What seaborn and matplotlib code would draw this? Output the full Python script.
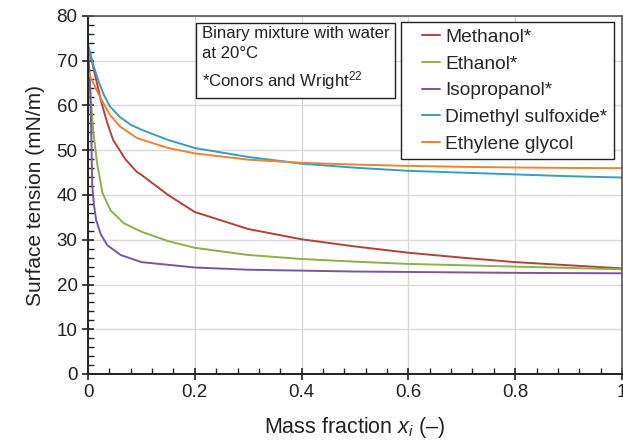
import numpy as np
import pandas as pd
import matplotlib
matplotlib.use("Agg")
import matplotlib.pyplot as plt
import seaborn as sns
from matplotlib.ticker import MultipleLocator
from matplotlib.legend_handler import HandlerLine2D
from matplotlib.lines import Line2D

# ---- data ----
methanol_x = [0, 0.005, 0.01, 0.024, 0.035, 0.047, 0.07, 0.091, 0.1, 0.15, 0.2, 0.3, 0.4, 0.5, 0.6, 0.7, 0.8, 0.9, 1.0]
methanol_y = [72.8, 71.0, 68.5, 61.2, 56.5, 52.3, 48.0, 45.2, 44.5, 40.0, 36.2, 32.4, 30.1, 28.5, 27.1, 26.0, 25.0, 24.3, 23.6]

ethanol_x = [0, 0.005, 0.01, 0.017, 0.027, 0.042, 0.067, 0.1, 0.15, 0.2, 0.3, 0.4, 0.5, 0.6, 0.7, 0.8, 0.9, 1.0]
ethanol_y = [72.8, 62.0, 54.0, 47.1, 40.5, 36.6, 33.7, 31.8, 29.7, 28.2, 26.6, 25.7, 25.1, 24.6, 24.3, 24.0, 23.7, 23.4]

isopropanol_x = [0, 0.004, 0.006, 0.008, 0.011, 0.015, 0.024, 0.036, 0.061, 0.1, 0.2, 0.3, 0.4, 0.5, 0.6, 0.8, 1.0]
isopropanol_y = [72.8, 64.0, 54.5, 42.0, 38.0, 34.5, 31.2, 28.8, 26.6, 25.0, 23.8, 23.3, 23.1, 22.9, 22.8, 22.6, 22.5]

dmso_x = [0, 0.01, 0.02, 0.03, 0.041, 0.06, 0.08, 0.1, 0.15, 0.2, 0.3, 0.4, 0.5, 0.6, 0.7, 0.8, 0.9, 1.0]
dmso_y = [73.7, 69.0, 65.3, 62.3, 59.8, 57.4, 55.7, 54.6, 52.3, 50.5, 48.5, 47.0, 46.1, 45.4, 45.0, 44.6, 44.2, 43.9]

eg_x = [0, 0.01, 0.022, 0.041, 0.06, 0.091, 0.1, 0.15, 0.2, 0.3, 0.4, 0.5, 0.6, 0.7, 0.8, 0.9, 1.0]
eg_y = [67.5, 65.0, 62.0, 57.9, 55.3, 52.8, 52.4, 50.5, 49.3, 47.9, 47.2, 46.8, 46.5, 46.3, 46.15, 46.05, 46.0]

series_names = ["Methanol*", "Ethanol*", "Isopropanol*", "Dimethyl sulfoxide*", "Ethylene glycol"]
series_x = [methanol_x, ethanol_x, isopropanol_x, dmso_x, eg_x]
series_y = [methanol_y, ethanol_y, isopropanol_y, dmso_y, eg_y]
colors = ["#B3423D", "#8DB04B", "#76589F", "#3A9DBD", "#EB8435"]

x_ticks = [0, 0.2, 0.4, 0.6, 0.8, 1.0]
x_ticklabels = ["0", "0.2", "0.4", "0.6", "0.8", "1"]
y_ticks = [0, 10, 20, 30, 40, 50, 60, 70, 80]

rows = []
for name, xs, ys in zip(series_names, series_x, series_y):
    for xv, yv in zip(xs, ys):
        rows.append({"x": xv, "y": yv, "series": name})
df = pd.DataFrame(rows)

# ---- style ----
sns.set_style("white")
plt.rcParams["font.family"] = ["Liberation Sans", "DejaVu Sans"]
plt.rcParams["mathtext.fontset"] = "custom"
plt.rcParams["mathtext.rm"] = "Liberation Sans"
plt.rcParams["mathtext.it"] = "Liberation Sans:italic"

fig = plt.figure(figsize=(6.23, 4.46), dpi=100)
ax = fig.add_axes([88 / 623, 72 / 446, 534 / 623, 358 / 446])

sns.lineplot(data=df, x="x", y="y", hue="series", hue_order=series_names,
             palette=colors, estimator=None, sort=False, linewidth=1.4, ax=ax)

ax.set_xlim(0, 1)
ax.set_ylim(0, 80)
ax.set_xticks(x_ticks)
ax.set_xticklabels(x_ticklabels)
ax.set_yticks(y_ticks)
ax.xaxis.set_minor_locator(MultipleLocator(0.04))
ax.yaxis.set_minor_locator(MultipleLocator(2))
ax.tick_params(axis="both", which="both", bottom=True, left=True, top=False, right=False)
ax.tick_params(axis="both", which="major", direction="inout", length=9, width=1.2,
               labelsize=13.5, color="#222222", labelcolor="#222222", pad=3)
ax.tick_params(axis="both", which="minor", direction="in", length=4, width=1.0, color="#222222")
ax.grid(True, which="major", color="#d9d9d9", linewidth=1.0)
ax.set_axisbelow(True)

for side in ["left", "bottom"]:
    ax.spines[side].set_color("#222222")
    ax.spines[side].set_linewidth(1.4)
for side in ["top", "right"]:
    ax.spines[side].set_color("#555555")
    ax.spines[side].set_linewidth(1.2)

ax.set_xlabel("Mass fraction $x_i$ (–)", fontsize=15.5, color="#222222", labelpad=10)
ax.set_ylabel("Surface tension (mN/m)", fontsize=15, color="#222222", labelpad=8)


class ShortLineHandler(HandlerLine2D):
    def create_artists(self, legend, orig_handle, xdescent, ydescent, width, height,
                       fontsize, trans):
        artists = super().create_artists(legend, orig_handle, xdescent, ydescent,
                                         width, height, fontsize, trans)
        for a in artists:
            if isinstance(a, Line2D):
                xd = np.asarray(a.get_xdata(), dtype=float)
                if len(xd) >= 2:
                    x0, x1 = xd.min(), xd.max()
                    a.set_xdata(np.linspace(x0 + 0.44 * (x1 - x0), x1, len(xd)))
        return artists


handles, labels = ax.get_legend_handles_labels()
leg = ax.legend(handles, labels, loc="upper left", bbox_to_anchor=(313 / 534, 1 - 6 / 358),
                fontsize=13.8, frameon=True, fancybox=False, edgecolor="#222222",
                handlelength=1.68, handletextpad=0.26, labelspacing=0.48, borderpad=0.35,
                borderaxespad=0,
                handler_map={Line2D: ShortLineHandler()})
leg.get_frame().set_linewidth(1.0)
leg.get_frame().set_facecolor("white")
leg.get_frame().set_alpha(1)

ax.text(0.213, 0.972, "Binary mixture with water\nat 20°C\n*Conors and Wright$^{22}$",
        transform=ax.transAxes, ha="left", va="top", fontsize=12.1, color="#222222",
        linespacing=1.45,
        bbox=dict(boxstyle="square,pad=0.35", facecolor="white", edgecolor="#222222", linewidth=1.0))

fig.savefig("out.png", dpi=100)
